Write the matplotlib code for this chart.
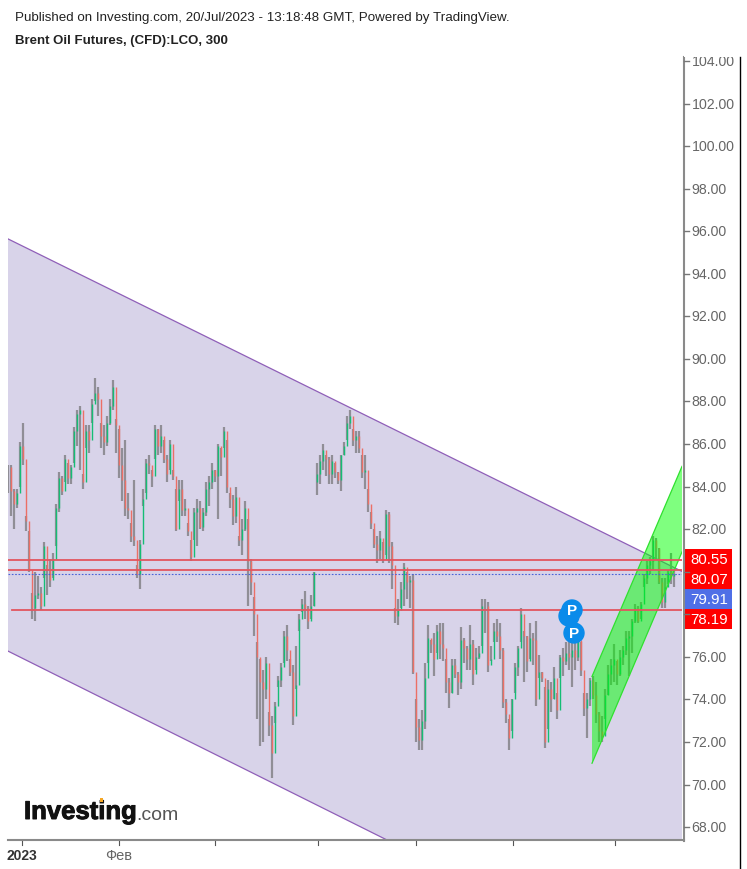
import matplotlib
matplotlib.use("Agg")
import matplotlib.pyplot as plt
import matplotlib.patheffects as pe
from matplotlib.patches import Circle, Polygon, Rectangle
from matplotlib.transforms import Affine2D

plt.rcParams['font.family'] = ['Liberation Sans', 'DejaVu Sans']

W, H = 747, 870
AX_L, AX_R, AX_T, AX_B = 8, 682, 58, 840

HIGHS = [85.0, 85.0, 83.9, 83.9, 86.1, 87.0, 82.6, 81.9, 79.0, 80.0,
         79.8, 79.3, 81.4, 80.3, 80.6, 80.9, 83.2, 84.7, 84.5, 85.5,
         85.1, 85.0, 86.8, 87.6, 87.8, 84.6, 86.9, 86.9, 88.1, 89.1,
         88.7, 87.0, 86.9, 87.3, 88.1, 89.0, 87.2, 86.7, 85.8, 86.2,
         83.7, 82.3, 84.3, 80.3, 81.5, 83.9, 85.3, 85.5, 84.8, 86.9,
         86.7, 86.9, 86.2, 85.5, 86.2, 84.8, 83.9, 84.3, 84.3, 83.4,
         82.3, 81.5, 83.0, 83.4, 83.3, 83.0, 84.2, 84.5, 85.1, 84.8,
         86.0, 85.8, 86.8, 86.2, 83.7, 83.6, 84.0, 81.7, 82.5, 83.3,
         82.5, 80.6, 78.8, 76.7, 75.9, 75.4, 76.0, 73.4, 73.2, 73.9,
         75.1, 75.7, 77.2, 77.5, 75.9, 75.6, 76.5, 78.0, 78.7, 79.1,
         78.4, 78.9, 80.0, 85.1, 85.5, 86.0, 85.5, 85.4, 85.5, 85.1,
         84.7, 85.5, 86.1, 87.3, 87.6, 86.7, 86.6, 86.6, 85.5, 85.5,
         83.9, 82.8, 82.0, 81.7, 81.9, 81.4, 82.9, 82.8, 81.4, 78.3,
         78.7, 79.5, 80.4, 80.0, 79.8, 79.9, 74.0, 73.1, 73.5, 75.7,
         77.5, 76.8, 77.1, 77.5, 77.6, 77.6, 75.9, 75.0, 75.9, 75.9,
         75.3, 77.4, 76.9, 76.5, 77.5, 76.8, 76.4, 76.5, 78.7, 78.7,
         78.6, 76.5, 77.6, 77.8, 77.6, 76.4, 74.0, 73.1, 74.0, 75.7,
         76.5, 78.3, 77.2, 77.0, 77.6, 77.1, 77.7, 76.1, 75.3, 74.6,
         74.9, 74.8, 75.5, 74.3, 76.1, 76.4, 76.7, 77.0, 76.7, 76.7,
         76.9, 76.7, 74.3, 74.3, 75.0, 75.1, 74.8, 73.4, 73.2, 74.5,
         75.6, 75.9, 76.6, 75.8, 76.3, 76.5, 77.2, 77.2, 77.8, 78.5,
         78.4, 78.6, 79.9, 80.5, 80.7, 81.7, 81.6, 81.1, 79.7, 79.7,
         80.1, 80.9, 80.1]

LOWS = [83.7, 82.6, 82.0, 83.0, 84.0, 85.0, 81.9, 80.0, 77.8, 77.7,
        78.7, 78.2, 79.7, 78.9, 79.3, 79.7, 81.2, 82.8, 83.6, 84.2,
        84.1, 84.1, 85.1, 85.9, 84.8, 83.9, 85.8, 85.6, 87.0, 88.0,
        87.3, 85.8, 85.5, 85.9, 86.9, 87.6, 85.6, 84.4, 83.3, 82.6,
        82.5, 81.4, 81.2, 79.7, 79.2, 83.1, 83.7, 84.6, 84.0, 85.3,
        85.5, 85.6, 85.1, 84.2, 84.8, 84.3, 81.9, 83.3, 82.6, 82.6,
        81.7, 80.5, 81.5, 81.2, 82.0, 81.9, 82.6, 83.1, 83.9, 84.2,
        82.5, 84.5, 85.8, 83.7, 83.0, 82.2, 82.3, 81.2, 80.8, 81.9,
        78.4, 78.9, 77.0, 73.1, 71.8, 72.0, 74.0, 72.3, 70.3, 72.9,
        74.6, 74.6, 75.7, 75.8, 75.1, 72.8, 74.5, 77.2, 78.1, 77.8,
        77.3, 77.8, 78.4, 83.6, 84.1, 84.8, 84.5, 84.1, 84.1, 84.4,
        84.1, 83.8, 85.5, 86.2, 86.7, 85.9, 85.6, 85.6, 84.4, 83.9,
        82.8, 82.0, 81.1, 80.4, 80.6, 80.4, 80.8, 80.4, 79.2, 77.6,
        77.5, 78.3, 78.4, 78.7, 78.3, 75.2, 72.0, 71.6, 71.6, 72.6,
        75.7, 76.2, 75.1, 76.2, 75.9, 75.8, 74.3, 73.6, 74.3, 75.0,
        74.2, 74.5, 75.7, 75.4, 75.4, 74.7, 75.4, 75.9, 76.5, 77.1,
        75.3, 75.8, 76.7, 76.7, 75.9, 73.6, 72.9, 71.6, 72.5, 74.3,
        75.1, 76.7, 74.8, 75.3, 75.9, 75.6, 73.7, 75.0, 74.8, 71.7,
        72.6, 73.4, 74.0, 73.1, 75.0, 75.1, 75.6, 75.4, 74.6, 75.4,
        75.8, 75.1, 73.2, 72.2, 73.7, 74.0, 72.9, 72.0, 72.0, 73.1,
        74.2, 74.7, 74.8, 74.7, 75.1, 75.6, 76.1, 75.1, 76.2, 77.6,
        77.6, 77.8, 79.3, 79.4, 79.9, 80.1, 80.6, 79.4, 78.3, 78.3,
        79.4, 79.4, 79.3]

CLOSES = [84.9, 83.8, 83.2, 83.7, 85.9, 85.3, 82.4, 80.1, 78.3, 78.9,
          79.0, 78.4, 81.2, 80.1, 79.6, 80.6, 83.0, 84.4, 83.8, 85.3,
          84.4, 84.9, 86.6, 87.4, 87.6, 84.2, 86.6, 86.2, 87.9, 88.4,
          88.1, 86.4, 86.1, 87.0, 87.8, 88.7, 86.9, 85.0, 84.3, 83.0,
          82.9, 81.7, 81.5, 79.9, 81.3, 83.4, 85.1, 85.0, 84.5, 86.7,
          85.9, 86.4, 85.3, 84.6, 86.0, 84.5, 82.0, 83.9, 82.9, 83.0,
          81.9, 80.7, 82.8, 83.0, 82.1, 82.8, 83.9, 84.2, 84.8, 84.5,
          85.9, 85.4, 86.6, 84.0, 83.4, 82.6, 83.5, 81.5, 82.0, 83.0,
          80.5, 79.5, 78.0, 76.0, 74.8, 74.5, 75.7, 72.8, 71.5, 73.7,
          74.9, 75.5, 77.0, 76.3, 75.3, 73.2, 74.7, 77.8, 78.5, 78.3,
          77.7, 78.4, 80.0, 84.6, 85.2, 85.7, 85.3, 84.6, 85.2, 84.7,
          84.3, 85.5, 85.9, 87.0, 87.3, 86.2, 86.4, 85.8, 84.7, 84.8,
          83.2, 82.3, 81.3, 81.0, 81.6, 80.6, 82.7, 81.2, 80.3, 77.9,
          78.2, 79.2, 80.2, 79.5, 79.6, 75.3, 72.7, 72.1, 73.0, 75.0,
          76.9, 76.6, 75.9, 77.2, 76.6, 76.4, 74.8, 74.3, 75.6, 75.2,
          74.8, 76.8, 76.4, 75.9, 76.6, 75.2, 76.0, 76.2, 78.4, 78.4,
          75.6, 75.9, 77.2, 77.0, 76.3, 73.9, 73.3, 72.2, 74.0, 75.5,
          76.4, 78.0, 77.0, 75.8, 76.9, 76.8, 74.0, 75.3, 75.0, 72.0,
          74.5, 74.0, 75.0, 73.5, 76.0, 75.8, 76.2, 76.0, 76.3, 76.0,
          76.8, 75.4, 73.6, 74.0, 74.9, 74.2, 73.3, 72.5, 72.3, 74.2,
          75.2, 75.6, 75.9, 75.2, 76.0, 76.3, 76.9, 77.0, 77.7, 78.3,
          77.7, 78.5, 79.7, 80.3, 80.5, 81.5, 81.1, 79.5, 78.6, 79.3,
          80.0, 79.8, 79.9]

# the session break: bar 103 opens with a gap, not from the previous close
GAP_BAR = 103
GAP_OPEN = 84.2

# hand drawn objects, as (bar, price)
BIG_CHANNEL_TOP = [(0, 95.64), (225, 79.99)]
BIG_CHANNEL_BOTTOM = [(0, 76.27), (225, 60.46)]
UP_CHANNEL_TOP = [(194.67, 75.08), (224.67, 84.95)]
UP_CHANNEL_BOTTOM = [(194.67, 71.0), (224.67, 80.93)]

LEVELS = [80.55, 80.07, 78.19]
LAST_PRICE = 79.91
YTICKS = list(range(68, 106, 2))
YTICKS_UNDER_BOXES = [78, 80]

X_TICK_PX = [22, 119, 215, 318, 416, 513, 615]
X_LABELS = {22: '2023', 119: 'Фев'}


def y_to_price(py):
    return 104 - (py - 62) / 21.28


fig = plt.figure(figsize=(W / 100, H / 100), dpi=100, facecolor='white')
px = Affine2D().scale(1 / W, -1 / H).translate(0, 1) + fig.transFigure

ax = fig.add_axes([AX_L / W, 1 - AX_B / H, (AX_R - AX_L) / W, (AX_B - AX_T) / H])
ax.set_xlim(0, (AX_R - AX_L) / 3)
ax.set_ylim(y_to_price(AX_B), y_to_price(AX_T))
ax.axis('off')

# big falling channel
ax.add_patch(Polygon(BIG_CHANNEL_TOP + BIG_CHANNEL_BOTTOM[::-1], closed=True,
                     facecolor='#d8d3e9', edgecolor='none', zorder=1))
for line in (BIG_CHANNEL_TOP, BIG_CHANNEL_BOTTOM):
    ax.plot(*zip(*line), color='#8f5fb8', lw=0.9, zorder=2)

# candles
xs = list(range(len(CLOSES)))
opens = [CLOSES[0]] + CLOSES[:-1]
opens[GAP_BAR] = GAP_OPEN
colors = ['#15bd75' if c >= o else '#ec6f66' for o, c in zip(opens, CLOSES)]
ax.vlines(xs, LOWS, HIGHS, color='#908e96', lw=1.6, zorder=3)
ax.vlines(xs, opens, CLOSES, colors=colors, lw=1.0, zorder=4)

# rising channel
ax.add_patch(Polygon(UP_CHANNEL_TOP + UP_CHANNEL_BOTTOM[::-1], closed=True,
                     facecolor='#00ff00', alpha=0.5, edgecolor='none', zorder=5))
for line in (UP_CHANNEL_TOP, UP_CHANNEL_BOTTOM):
    ax.plot(*zip(*line), color='#2fe02f', lw=0.9, zorder=6)

# levels
ax.plot([0, 225], [LEVELS[0]] * 2, color='#e2555f', lw=1.3, zorder=7)
ax.plot([0, 225], [LEVELS[1]] * 2, color='#e2555f', lw=1.3, zorder=7)
ax.plot([1.3, 225], [LEVELS[2]] * 2, color='#e2555f', lw=1.3, zorder=7)
ax.plot([0, 225], [LAST_PRICE] * 2, color='#4a62d8', lw=0.8, ls=(0, (1.5, 1.5)), zorder=7)

# pivots
for cx, cy in [(569, 617), (572, 611), (574, 634)]:
    fig.add_artist(Circle((cx, cy), 10, transform=px, facecolor='#0a8bea', edgecolor='#0a8bea', zorder=8))
    if (cx, cy) != (569, 617):
        fig.text(cx, cy, 'P', transform=px, color='white', fontsize=11, fontweight='bold',
                 ha='center', va='center', zorder=9)

# price axis
fig.add_artist(plt.Line2D([683.5, 683.5], [58, 842], transform=px, color='#8a8a8a', lw=1.5))
for v in YTICKS:
    py = AX_B - (v - y_to_price(AX_B)) * 21.28
    fig.add_artist(plt.Line2D([684, 688.5], [py, py], transform=px, color='#777777', lw=1))
    if v not in YTICKS_UNDER_BOXES:
        fig.text(691.5, py, '%.2f' % v, transform=px, color='#666666', fontsize=10.2, ha='left', va='center')
# the top label is cut off by the chart frame
fig.add_artist(Rectangle((684, 40), 54, 18, transform=px, facecolor='white', edgecolor='none', zorder=10))

# price labels
boxes = [(550, '80.55', '#ff0000'), (570, '80.07', '#ff0000'), (590, '79.91', '#4f6fe6'), (610, '78.19', '#ff0000')]
for top, txt, col in boxes:
    fig.add_artist(Rectangle((683, top), 49, 20, transform=px, facecolor=col, edgecolor='none'))
    fig.text(709, top + 10, txt, transform=px, color='white', fontsize=10.8, ha='center', va='center')

# time axis
fig.add_artist(plt.Line2D([8, 684], [841, 841], transform=px, color='#8a8a8a', lw=1.5))
for tx in X_TICK_PX:
    fig.add_artist(plt.Line2D([tx, tx], [842, 846], transform=px, color='#555555', lw=0.8))
    if tx in X_LABELS:
        fig.text(tx, 856, X_LABELS[tx], transform=px, fontsize=10 if tx == 22 else 10.5,
                 ha='center', va='center', color='#333333' if tx == 22 else '#666666',
                 fontweight='bold' if tx == 22 else 'normal')

# right frame
fig.add_artist(plt.Line2D([739.5, 739.5], [58, H], transform=px, color='black', lw=1))

# header
fig.text(15, 18, 'Published on Investing.com, 20/Jul/2023 - 13:18:48 GMT, Powered by TradingView.',
         transform=px, fontsize=9.6, color='#222222', va='center')
fig.text(15, 41, 'Brent Oil Futures, (CFD):LCO, 300', transform=px, fontsize=9.55, fontweight='bold',
         color='#222222', va='center')

# logo
fig.text(24, 820, 'Investing', transform=px, fontsize=18.5, fontweight='bold', color='#111111', va='baseline',
         path_effects=[pe.withStroke(linewidth=0.7, foreground='#111111')])
fig.text(136, 820, '.com', transform=px, fontsize=14, color='#555555', va='baseline')
fig.add_artist(Rectangle((100, 799), 3, 4, transform=px, facecolor='#f5a623', edgecolor='none', zorder=5))

fig.savefig('out.png', dpi=100)
